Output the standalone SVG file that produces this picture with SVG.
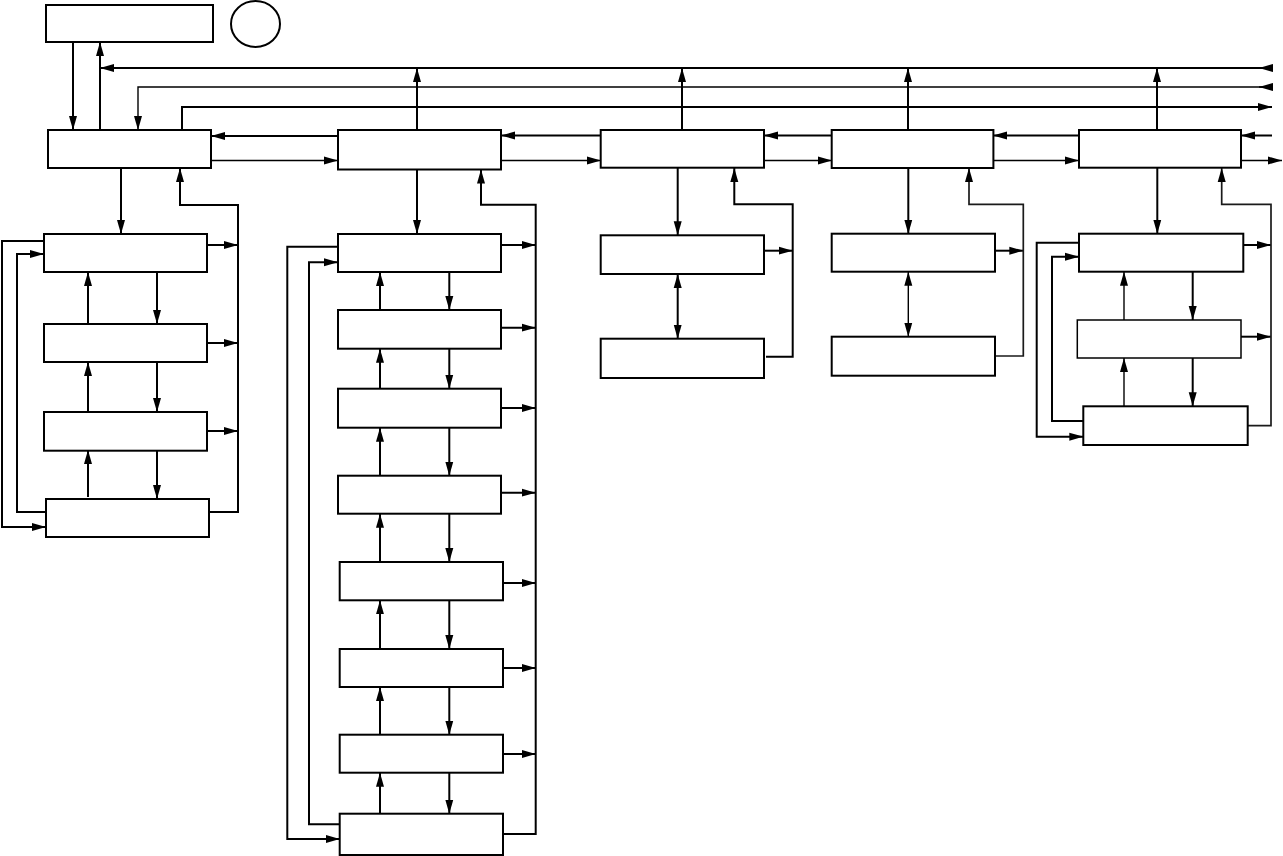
<svg xmlns="http://www.w3.org/2000/svg" width="1283" height="856" viewBox="0 0 1283 856">
<style>
.box{fill:#fff;stroke:#000;stroke-width:2}
.thinbox{fill:#fff;stroke:#000;stroke-width:1.5}
.w{fill:none;stroke:#000;stroke-width:2}
.t{fill:none;stroke:#000;stroke-width:1.4}
.g{fill:none;stroke:#1a1a1a;stroke-width:1.7}
.a{marker-end:url(#ah)}
.d{marker-start:url(#ah2);marker-end:url(#ah)}
</style>
<defs>
<marker id="ah" markerUnits="userSpaceOnUse" markerWidth="14" markerHeight="9" viewBox="0 0 14 9" refX="14" refY="4.5" orient="auto"><path d="M0,0.5 L14,4.5 L0,8.5 Z" fill="#000"/></marker>
<marker id="ah2" markerUnits="userSpaceOnUse" markerWidth="14" markerHeight="9" viewBox="0 0 14 9" refX="14" refY="4.5" orient="auto-start-reverse"><path d="M0,0.5 L14,4.5 L0,8.5 Z" fill="#000"/></marker>
</defs>
<rect width="1283" height="856" fill="#fff"/>
<g id="top"><rect class="box" x="46" y="5" width="167" height="37"/></g>
<g id="circle"><ellipse cx="255.5" cy="24" rx="24.5" ry="23" fill="#fff" stroke="#000" stroke-width="2"/></g>
<g id="connectors">
<path class="w a" d="M100,130 L100,42"/>
<path class="w a" d="M73,42 L73,130"/>
<path class="w a" d="M1272,68 L100,68"/>
<path class="w a" d="M1272,68 L1259,68"/>
<path class="t a" d="M1272,87 L138,87 L138,130"/>
<path class="t a" d="M1272,87 L1259,87"/>
<path class="w a" d="M182,130 L182,107 L1272,107"/>
<path class="w a" d="M417,130 L417,68"/>
<path class="w a" d="M682,130 L682,68"/>
<path class="w a" d="M908,130 L908,68"/>
<path class="w a" d="M1157,130 L1157,68"/>
<path class="w a" d="M338,136 L211,136"/>
<path class="t a" d="M211,160.5 L338,160.5"/>
<path class="w a" d="M601,135.5 L501,135.5"/>
<path class="t a" d="M501,160.5 L601,160.5"/>
<path class="w a" d="M832,135.5 L764,135.5"/>
<path class="t a" d="M764,160.5 L832,160.5"/>
<path class="w a" d="M1079,135.5 L993,135.5"/>
<path class="t a" d="M993,160.5 L1079,160.5"/>
<path class="w a" d="M1272,135.5 L1241,135.5"/>
<path class="t a" d="M1241,160.5 L1282,160.5"/>
<path class="w a" d="M121,168 L121,234"/>
<path class="w a" d="M209,512 L238,512 L238,205 L180,205 L180,168"/>
<path class="w a" d="M207,245 L238,245"/>
<path class="w a" d="M207,343 L238,343"/>
<path class="w a" d="M207,431 L238,431"/>
<path class="w a" d="M88,324 L88,272"/>
<path class="w a" d="M88,412 L88,362"/>
<path class="w a" d="M88,497 L88,450"/>
<path class="w a" d="M157,272 L157,324"/>
<path class="w a" d="M157,362 L157,412"/>
<path class="w a" d="M157,449 L157,499"/>
<path class="w a" d="M44,241 L2,241 L2,527 L46,527"/>
<path class="w a" d="M46,512 L17,512 L17,254 L44,254"/>
<path class="w a" d="M417,169.5 L417,234"/>
<path class="w a" d="M503,834 L535.7,834 L535.7,204.7 L481,204.7 L481,169.5"/>
<path class="w a" d="M501,245 L535.7,245"/>
<path class="w a" d="M501,327.7 L535.7,327.7"/>
<path class="w a" d="M501,408 L535.7,408"/>
<path class="w a" d="M501,492.7 L535.7,492.7"/>
<path class="w a" d="M503,583 L535.7,583"/>
<path class="w a" d="M503,668 L535.7,668"/>
<path class="w a" d="M503,754 L535.7,754"/>
<path class="w a" d="M380,310 L380,272"/>
<path class="w a" d="M380,388.7 L380,348.7"/>
<path class="w a" d="M380,475.7 L380,427.7"/>
<path class="w a" d="M380,562 L380,513.7"/>
<path class="w a" d="M380,649 L380,600.3"/>
<path class="w a" d="M380,734.7 L380,687"/>
<path class="w a" d="M380,813.7 L380,772.7"/>
<path class="w a" d="M449.3,272 L449.3,310"/>
<path class="w a" d="M449.3,348.7 L449.3,388.7"/>
<path class="w a" d="M449.3,427.7 L449.3,475.7"/>
<path class="w a" d="M449.3,513.7 L449.3,562"/>
<path class="w a" d="M449.3,600.3 L449.3,649"/>
<path class="w a" d="M449.3,687 L449.3,734.7"/>
<path class="w a" d="M449.3,772.7 L449.3,813.7"/>
<path class="w a" d="M338,246.7 L287.3,246.7 L287.3,839 L339.7,839"/>
<path class="w a" d="M339.7,824.3 L309,824.3 L309,262.3 L338,262.3"/>
<path class="w a" d="M677.7,168 L677.7,235.3"/>
<path class="w d" d="M677.7,274 L677.7,338.7"/>
<path class="w a" d="M764,250.7 L792.7,250.7"/>
<path class="w a" d="M766,356.7 L792.7,356.7 L792.7,204.3 L734.3,204.3 L734.3,168"/>
<path class="w a" d="M908.3,168 L908.3,233.7"/>
<path class="t d" d="M908.3,271.7 L908.3,336.7"/>
<path class="w a" d="M995,250.7 L1023.3,250.7"/>
<path class="g a" d="M995,356 L1023.3,356 L1023.3,204.3 L969,204.3 L969,168"/>
<path class="w a" d="M1157.3,168 L1157.3,233.7"/>
<path class="w a" d="M1243.3,245 L1271,245"/>
<path class="w a" d="M1241,336.7 L1271,336.7"/>
<path class="g a" d="M1248,425.7 L1271,425.7 L1271,204.3 L1221.7,204.3 L1221.7,168"/>
<path class="t a" d="M1124,320 L1124,271.7"/>
<path class="t a" d="M1124,406.3 L1124,358"/>
<path class="w a" d="M1192.7,271.7 L1192.7,320"/>
<path class="w a" d="M1192.7,358 L1192.7,406.3"/>
<path class="w a" d="M1079,242.7 L1036.7,242.7 L1036.7,436.7 L1083.3,436.7"/>
<path class="w a" d="M1083.3,421 L1052,421 L1052,256.7 L1079,256.7"/>
</g>
<g id="nodeA"><rect class="box" x="48" y="130" width="163" height="38"/></g>
<g id="nodeA1"><rect class="box" x="44" y="234" width="163" height="38"/></g>
<g id="nodeA2"><rect class="box" x="44" y="324" width="163" height="38"/></g>
<g id="nodeA3"><rect class="box" x="44" y="412" width="163" height="38.7"/></g>
<g id="nodeA4"><rect class="box" x="46" y="499" width="163" height="38"/></g>
<g id="nodeB"><rect class="box" x="338" y="130" width="163" height="39.5"/></g>
<g id="nodeB1"><rect class="box" x="338" y="234" width="163" height="38"/></g>
<g id="nodeB2"><rect class="box" x="338" y="310" width="163" height="38.7"/></g>
<g id="nodeB3"><rect class="box" x="338" y="388.7" width="163" height="39"/></g>
<g id="nodeB4"><rect class="box" x="338" y="475.7" width="163" height="38"/></g>
<g id="nodeB5"><rect class="box" x="339.7" y="562" width="163.3" height="38.3"/></g>
<g id="nodeB6"><rect class="box" x="339.7" y="649" width="163.3" height="38"/></g>
<g id="nodeB7"><rect class="box" x="339.7" y="734.7" width="163.3" height="38"/></g>
<g id="nodeB8"><rect class="box" x="339.7" y="813.7" width="163.3" height="41.3"/></g>
<g id="nodeC"><rect class="box" x="600.7" y="130" width="163.3" height="37.7"/></g>
<g id="nodeC1"><rect class="box" x="600.7" y="235.3" width="163.3" height="38.7"/></g>
<g id="nodeC2"><rect class="box" x="600.7" y="338.7" width="163.3" height="39.3"/></g>
<g id="nodeD"><rect class="box" x="831.7" y="130" width="161.7" height="38"/></g>
<g id="nodeD1"><rect class="box" x="831.7" y="233.7" width="163.3" height="38"/></g>
<g id="nodeD2"><rect class="box" x="831.7" y="336.7" width="163.3" height="39"/></g>
<g id="nodeE"><rect class="box" x="1079" y="130" width="162" height="37.7"/></g>
<g id="nodeE1"><rect class="box" x="1079" y="233.7" width="164.3" height="38"/></g>
<g id="nodeE2"><rect class="thinbox" x="1077.3" y="320" width="163.7" height="38"/></g>
<g id="nodeE3"><rect class="box" x="1083.3" y="406.3" width="164.4" height="38.7"/></g>
</svg>
